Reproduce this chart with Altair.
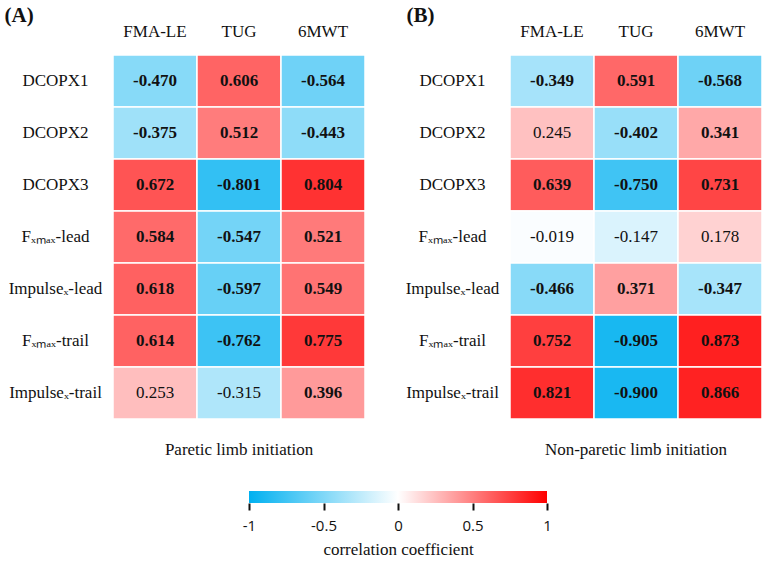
import altair as alt
import pandas as pd

rows = ["DCOPX1", "DCOPX2", "DCOPX3", "Fₓₘₐₓ-lead", "Impulseₓ-lead", "Fₓₘₐₓ-trail", "Impulseₓ-trail"]
cols = ["FMA-LE", "TUG", "6MWT"]

vals_a = [[-0.470, 0.606, -0.564],
          [-0.375, 0.512, -0.443],
          [0.672, -0.801, 0.804],
          [0.584, -0.547, 0.521],
          [0.618, -0.597, 0.549],
          [0.614, -0.762, 0.775],
          [0.253, -0.315, 0.396]]
bold_a = [[1, 1, 1], [1, 1, 1], [1, 1, 1], [1, 1, 1], [1, 1, 1], [1, 1, 1], [0, 0, 1]]

vals_b = [[-0.349, 0.591, -0.568],
          [0.245, -0.402, 0.341],
          [0.639, -0.750, 0.731],
          [-0.019, -0.147, 0.178],
          [-0.466, 0.371, -0.347],
          [0.752, -0.905, 0.873],
          [0.821, -0.900, 0.866]]
bold_b = [[1, 1, 1], [0, 1, 1], [1, 1, 1], [0, 0, 0], [1, 1, 1], [1, 1, 1], [1, 1, 1]]

panel_letters = ["(A)", "(B)"]
panel_titles = ["Paretic limb initiation", "Non-paretic limb initiation"]
cbar_ticks = [-1, -0.5, 0, 0.5, 1]
cbar_title = "correlation coefficient"

SERIF = "Liberation Serif"
SANS = "Open Sans"
BLUE, WHITE, RED = "#00B0F0", "#FFFFFF", "#FF0000"

color_scale = alt.Scale(domain=[-1, 0, 1], range=[BLUE, WHITE, RED], interpolate="rgb")


def make_df(vals, bold):
    recs = []
    for i, r in enumerate(rows):
        for j, c in enumerate(cols):
            v = vals[i][j]
            recs.append({"row": r, "col": c, "r": v, "label": f"{v:.3f}", "bold": bool(bold[i][j])})
    return pd.DataFrame(recs)


def panel(vals, bold, letter, subtitle, title_x):
    df = make_df(vals, bold)
    x = alt.X("col:N", sort=cols, scale=alt.Scale(paddingInner=0, paddingOuter=0),
              axis=alt.Axis(orient="top", title=letter, labelAngle=0, ticks=False, tickSize=0,
                            domain=False, labelFont=SERIF, labelFontSize=17, labelColor="#111",
                            labelPadding=19, labelBaseline="alphabetic",
                            titleFont=SERIF, titleFontSize=21, titleFontWeight="bold",
                            titleColor="#111", titleAnchor="start", titleAlign="left",
                            titleBaseline="alphabetic", titleX=title_x, titleY=-34))
    y = alt.Y("row:N", sort=rows, scale=alt.Scale(paddingInner=0, paddingOuter=0),
              axis=alt.Axis(title=None, ticks=False, tickSize=0, domain=False,
                            labelFont=SERIF, labelFontSize=17, labelColor="#111",
                            labelAlign="center", labelBaseline="middle", labelPadding=58,
                            labelLimit=0))
    base = alt.Chart(df)
    rect = base.mark_rect(stroke="white", strokeWidth=1.5).encode(
        x=x, y=y, color=alt.Color("r:Q", scale=color_scale, legend=None))
    txt_b = base.transform_filter("datum.bold").mark_text(
        font=SERIF, fontSize=17, fontWeight="bold", color="#111").encode(
        x=alt.X("col:N", sort=cols), y=alt.Y("row:N", sort=rows), text="label:N")
    txt_n = base.transform_filter("!datum.bold").mark_text(
        font=SERIF, fontSize=17, fontWeight="normal", color="#111").encode(
        x=alt.X("col:N", sort=cols), y=alt.Y("row:N", sort=rows), text="label:N")
    return alt.layer(rect, txt_b, txt_n).properties(
        width=252, height=364,
        title=alt.TitleParams(subtitle, orient="bottom", offset=22, font=SERIF, fontSize=17,
                              fontWeight="normal", color="#111", anchor="middle"))


pa = panel(vals_a, bold_a, panel_letters[0], panel_titles[0], -109)
pb = panel(vals_b, bold_b, panel_letters[1], panel_titles[1], -104)

top = alt.hconcat(pa, pb, spacing=145, bounds="flush")

cbar_df = pd.DataFrame({"lo": [cbar_ticks[0]], "hi": [cbar_ticks[-1]]})
grad = alt.Gradient(gradient="linear",
                    stops=[alt.GradientStop(color=BLUE, offset=0),
                           alt.GradientStop(color=WHITE, offset=0.5),
                           alt.GradientStop(color=RED, offset=1)],
                    x1=0, x2=1, y1=0, y2=0)
cbar = alt.Chart(cbar_df).mark_rect(fill=grad).encode(
    x=alt.X("lo:Q", scale=alt.Scale(domain=[-1, 1], range=[136, 434], nice=False, zero=False),
            axis=alt.Axis(values=cbar_ticks, domain=False, grid=False, tickSize=7, tickWidth=2,
                          tickColor="#111", labelFont=SANS, labelFontSize=15, labelColor="#111",
                          labelPadding=8, labelFlush=False, labelExpr="'' + datum.value",
                          title=cbar_title, titleFont=SERIF, titleFontSize=17,
                          titleFontWeight="normal", titleColor="#111", titleX=285,
                          titlePadding=8)),
    x2="hi:Q",
).properties(width=650, height=12)

chart = alt.vconcat(top, cbar, spacing=33).properties(
    padding={"left": 4, "top": 4, "right": 4, "bottom": 4},
    background="white",
).configure_view(stroke=None)

chart.save("out.html", embed_options={"renderer": "svg", "actions": False})
